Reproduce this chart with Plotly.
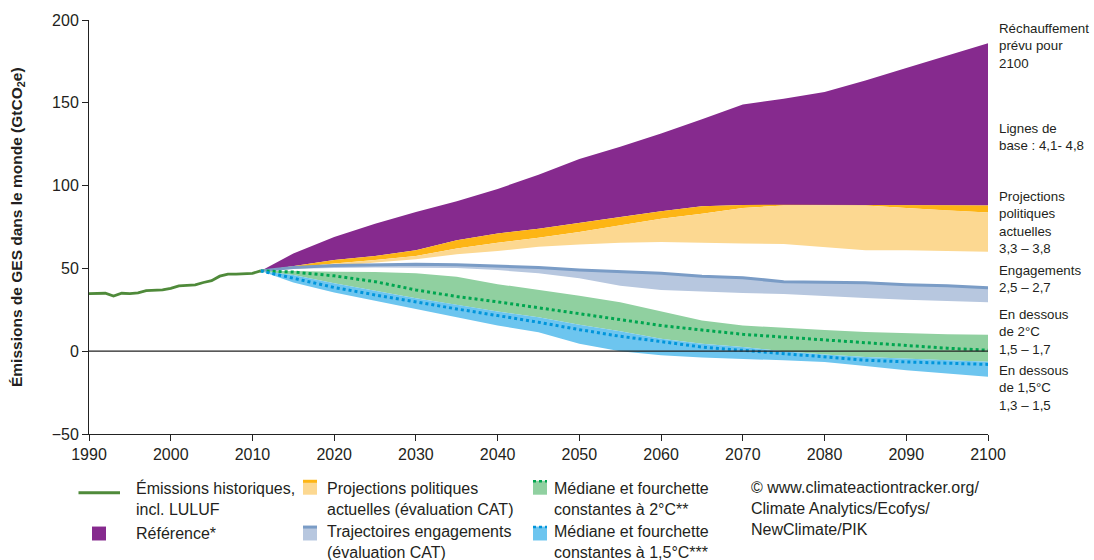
import plotly.graph_objects as go

# ---------------- data ----------------
hist_years = list(range(1990, 2012))
hist_values = [34.8, 35.0, 35.0, 33.3, 35.0, 34.8, 35.2, 36.6, 36.6, 37.0, 38.0,
               39.5, 39.8, 40.0, 41.5, 42.6, 45.3, 46.6, 46.6, 46.6, 47.0, 48.5]

proj_years = [2011, 2015, 2020, 2025, 2030, 2035, 2040, 2045, 2050, 2055,
              2060, 2065, 2070, 2075, 2080, 2085, 2090, 2095, 2100]

ref_high = [48.5, 59, 69, 77, 84, 90.5, 98, 106.5, 116, 123.5,
            131.5, 140, 149, 152.5, 156.5, 163.5, 171, 178.5, 186]
cpp_high = [48.5, 51.5, 55, 57.5, 61, 67, 71, 74, 77.5, 81,
            84.5, 87.5, 88.3, 88.5, 88.5, 88.4, 88.3, 88.1, 88]
cpp_mid = [48.5, 50.5, 53, 55, 57.5, 62, 65.5, 68.5, 72, 76,
           80, 83, 86.5, 88, 88.2, 88, 86.5, 85, 83.7]
cpp_low = [48.5, 49.8, 51, 53.5, 55.5, 58.5, 60.5, 63, 64.5, 65.5,
           66, 65.5, 65, 64.8, 63, 61, 61, 60.5, 60]
pledge_high = [48.5, 50.5, 51.8, 52.2, 52.5, 52.2, 51.5, 50.5, 49, 48,
               47, 45.2, 44.3, 42, 41.8, 41.3, 40.2, 39.5, 38.3]
pledge_low = [48.5, 49.8, 50.3, 50.5, 50.6, 50.3, 49, 47, 44, 39.5,
              37, 36, 35.2, 34.5, 33.5, 32.2, 31, 30.3, 29.6]
c2_high = [48.5, 48.5, 48, 47.8, 47, 45, 40.5, 37, 33.5, 29.5,
           24, 18.5, 15.5, 14, 12.8, 11.6, 10.8, 10.2, 10]
c2_median = [48.5, 47.8, 45.5, 42, 37, 33, 29.8, 26.3, 22.5, 19,
             15.5, 12.8, 10.2, 8.5, 6.8, 4.8, 3.2, 1.8, 0.6]
c2_low = [48.5, 46, 41, 36.5, 32, 28, 24, 20.5, 16, 12,
          7.5, 4.5, 2.5, 0, -2, -3.5, -4.5, -5.5, -6.4]
c15_median = [48.5, 44, 38.5, 34, 29.6, 25.5, 21.5, 17.5, 13, 9,
              5.8, 2.5, 0.5, -1.5, -3.5, -5.4, -6.5, -7.3, -8]
c15_low = [48.5, 41.5, 35.5, 30.5, 25.5, 20.5, 15.5, 11.5, 4.5, 0,
           -2.5, -3.8, -4.8, -5.5, -6.5, -9, -11.5, -13.5, -15.4]

x_ticks = list(range(1990, 2101, 10))
y_ticks = [-50, 0, 50, 100, 150, 200]

# ---------------- colours ----------------
PURPLE = "#862A8E"
ORANGE_D = "#FDB515"
ORANGE_L = "#FCD891"
PLEDGE_LINE = "#7A9CC6"
PLEDGE_BAND = "#B7C7DF"
GREEN_BAND = "#90D0A0"
GREEN_DOT = "#00A650"
BLUE_BAND = "#6DC5EF"
BLUE_DOT = "#0095DB"
HIST = "#4F8A3A"
FONT = "Liberation Sans, Arial, sans-serif"
TXT = "#231F20"


def band(upper, lower, color):
    return go.Scatter(x=proj_years + proj_years[::-1],
                      y=upper + lower[::-1],
                      fill="toself", fillcolor=color, mode="lines",
                      line=dict(width=0, color=color), hoverinfo="skip",
                      showlegend=False)


fig = go.Figure()
fig.add_trace(band(ref_high, cpp_high, PURPLE))
fig.add_trace(band(cpp_high, cpp_mid, ORANGE_D))
fig.add_trace(band(cpp_mid, cpp_low, ORANGE_L))
fig.add_trace(band(pledge_high, pledge_low, PLEDGE_BAND))
fig.add_trace(go.Scatter(x=proj_years, y=pledge_high, mode="lines",
                         line=dict(color=PLEDGE_LINE, width=3), showlegend=False))
fig.add_trace(band(c2_high, c2_low, GREEN_BAND))
fig.add_trace(band(c2_low, c15_low, BLUE_BAND))
fig.add_trace(go.Scatter(x=proj_years, y=c2_median, mode="lines",
                         line=dict(color=GREEN_DOT, width=3, dash="dot"), showlegend=False))
fig.add_trace(go.Scatter(x=proj_years, y=c15_median, mode="lines",
                         line=dict(color=BLUE_DOT, width=3, dash="dot"), showlegend=False))
fig.add_trace(go.Scatter(x=hist_years, y=hist_values, mode="lines",
                         line=dict(color=HIST, width=2.8), showlegend=False))

# ---------------- layout helpers ----------------
W, H = 1094, 560
L, R, T, B = 89, 988, 18, 434


def px(xp):
    return (xp - L) / (R - L)


def py(yp):
    return (B - yp) / (B - T)


annotations = []


def text(x, y, s, size=16, xanchor="left", yanchor="middle", **kw):
    annotations.append(dict(x=px(x), y=py(y), xref="paper", yref="paper",
                            text=s, showarrow=False, xanchor=xanchor, yanchor=yanchor,
                            align="left", font=dict(family=FONT, size=size, color=TXT), **kw))


# right side labels
RS = 13.3
text(997, 44.5, "Réchauffement<br>prévu pour<br>2100", RS)
text(997, 136, "Lignes de<br>base : 4,1- 4,8", RS)
text(997, 221, "Projections<br>politiques<br>actuelles<br>3,3 – 3,8", RS)
text(997, 278, "Engagements<br>2,5 – 2,7", RS)
text(997, 331.5, "En dessous<br>de 2°C<br>1,5 – 1,7", RS)
text(997, 387.5, "En dessous<br>de 1,5°C<br>1,3 – 1,5", RS)

# legend texts
text(134, 499, "Émissions historiques,<br>incl. LULUF")
text(134, 534, "Référence*")
text(325, 499, "Projections politiques<br>actuelles (évaluation CAT)")
text(325, 543, "Trajectoires engagements<br>(évaluation CAT)")
text(552, 499, "Médiane et fourchette<br>constantes à 2°C**")
text(552, 543, "Médiane et fourchette<br>constantes à 1,5°C***")
text(749, 509, "© www.climateactiontracker.org/<br>Climate Analytics/Ecofys/<br>NewClimate/PIK")

# y axis title
annotations.append(dict(x=px(17), y=py(226), xref="paper", yref="paper",
                        text="<b>Émissions de GES dans le monde (GtCO<sub>2</sub>e)</b>",
                        textangle=-90, showarrow=False, xanchor="center", yanchor="middle",
                        font=dict(family=FONT, size=15.5, color=TXT)))

# legend line icon for historic emissions (drawn as an arrowless annotation line)
annotations.append(dict(x=px(120), y=py(493), xref="paper", yref="paper",
                        ax=-43, ay=0, text="", showarrow=True, arrowhead=0,
                        arrowwidth=3, arrowcolor=HIST, standoff=0, startstandoff=0))

# zero reference line, above the bands
shapes = [dict(type="line", xref="x domain", yref="y", x0=0, x1=1, y0=0, y1=0,
               line=dict(color="#222222", width=1.2), layer="above")]


def rect(x0, y0, x1, y1, color):
    shapes.append(dict(type="rect", xref="paper", yref="paper",
                       x0=px(x0), x1=px(x1), y0=py(y1), y1=py(y0),
                       fillcolor=color, line=dict(width=0), layer="above"))


def hline(x0, x1, y, color, width, dash="solid"):
    shapes.append(dict(type="line", xref="paper", yref="paper",
                       x0=px(x0), x1=px(x1), y0=py(y), y1=py(y),
                       line=dict(color=color, width=width, dash=dash), layer="above"))


# legend icons
rect(92, 527, 106, 541, PURPLE)
rect(303, 481, 317, 495, ORANGE_L)
rect(303, 480, 317, 483, ORANGE_D)
rect(303, 527, 317, 541, PLEDGE_BAND)
rect(303, 526, 317, 529, PLEDGE_LINE)
rect(533, 481, 547, 495, GREEN_BAND)
hline(533, 547, 481.5, GREEN_DOT, 2.5, "dot")
rect(533, 527, 547, 541, BLUE_BAND)
hline(533, 547, 527.5, BLUE_DOT, 2.5, "dot")

fig.update_layout(
    width=W, height=H,
    margin=dict(l=L, r=W - R, t=T, b=H - B, pad=0),
    paper_bgcolor="white", plot_bgcolor="white",
    font=dict(family=FONT, size=16, color=TXT),
    showlegend=False,
    xaxis=dict(range=[1990, 2100], tickvals=x_ticks, ticks="outside", ticklen=6,
               tickcolor="#222", showline=True, linecolor="#222", linewidth=1,
               showgrid=False, zeroline=False, tickfont=dict(size=16, family=FONT)),
    yaxis=dict(range=[-50, 200], tickvals=y_ticks, ticks="outside", ticklen=6,
               tickcolor="#222", showline=True, linecolor="#222", linewidth=1,
               showgrid=False, zeroline=False, tickfont=dict(size=16, family=FONT),
               tickformat="d"),
    annotations=annotations,
    shapes=shapes,
)

fig.write_html("out.html", config={"displayModeBar": False},
               post_script="document.body.style.margin='0';document.body.style.overflow='hidden';")
